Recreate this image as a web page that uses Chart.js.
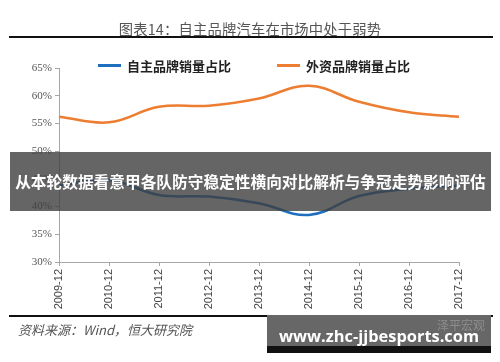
<!DOCTYPE html>
<html>
<head>
<meta charset="utf-8">
<script src="https://cdn.jsdelivr.net/npm/chart.js@4"></script>
<style>
  html, body { margin: 0; padding: 0; background: #fff; }
  #page { position: relative; width: 500px; height: 362px; overflow: hidden; font-family: "Noto Sans CJK SC", sans-serif; }
  #chartBox { position: absolute; left: 0; top: 0; width: 500px; height: 362px; }
  .title { position: absolute; left: 0; width: 500px; top: 18px; text-align: center; font-size: 14.3px; color: #555; letter-spacing: 0.2px; }
  .rule { position: absolute; left: 9px; width: 484px; background: #111; }
  .legend { position: absolute; top: 56px; font-size: 13px; font-weight: bold; color: #222; }
  .legend span.swatch { display: inline-block; width: 23px; height: 3px; vertical-align: middle; margin-right: 6px; position: relative; top: -2px; }
  .source { position: absolute; left: 18px; top: 320px; font-size: 13px; font-style: italic; color: #555; font-family: "Noto Sans CJK SC", "Liberation Serif", serif; }
  .banner { position: absolute; left: 10px; top: 152px; width: 481px; height: 59px; background: rgba(62, 62, 62, 0.8); color: #fff; font-weight: bold; font-size: 15.7px; line-height: 59px; text-align: center; white-space: nowrap; }
  .mark { position: absolute; left: 267px; top: 315px; width: 224px; height: 31px; background: #676767; border-bottom: 7px solid #111; }
  .mark .site { position: absolute; left: 0; width: 224px; top: 9px; text-align: center; color: #fff; font-weight: bold; font-size: 16.4px; font-family: "Open Sans", sans-serif; line-height: 24px; }
  .mark .wx { position: absolute; right: 6px; top: 1px; color: #8d8d8d; font-size: 12px; }
</style>
</head>
<body>
<div id="page">
  <div id="chartBox"><canvas id="myChart" width="500" height="362"></canvas></div>
  <div class="title">图表14：自主品牌汽车在市场中处于弱势</div>
  <div class="rule" style="top:36px;height:2px;"></div>
  <div class="legend" id="leg0" style="left:98px;"></div>
  <div class="legend" id="leg1" style="left:277px;"></div>
  <div class="banner">从本轮数据看意甲各队防守稳定性横向对比解析与争冠走势影响评估</div>
  <div class="rule" style="top:315px;height:2px;"></div>
  <div class="source">资料来源：Wind，恒大研究院</div>
  <div class="mark">
    <div class="wx">泽平宏观</div>
    <div class="site">www.zhc-jjbesports.com</div>
  </div>
</div>
<script>
const years = ['2009-12', '2010-12', '2011-12', '2012-12', '2013-12', '2014-12', '2015-12', '2016-12', '2017-12'];
const seriesNames = ['自主品牌销量占比', '外资品牌销量占比'];
const domesticShare = [43.8, 44.8, 42.1, 41.8, 40.6, 38.5, 41.9, 43.2, 43.8];
const foreignShare = [56.2, 55.2, 58.0, 58.2, 59.5, 61.8, 58.9, 57.0, 56.2];
const yMin = 30, yMax = 65, yStep = 5;
const colors = ['#1f6fbf', '#ed7d31'];

// legend as plain html
seriesNames.forEach(function(name, i) {
  document.getElementById('leg' + i).innerHTML =
    '<span class="swatch" style="background:' + colors[i] + '"></span>' + name;
});

const ctx = document.getElementById('myChart');
const myChart = new Chart(ctx, {
  type: 'line',
  data: {
    labels: years,
    datasets: [{
      label: seriesNames[0],
      data: domesticShare,
      borderColor: colors[0],
      borderWidth: 2.5,
      pointRadius: 0,
      tension: 0.4
    }, {
      label: seriesNames[1],
      data: foreignShare,
      borderColor: colors[1],
      borderWidth: 2.5,
      pointRadius: 0,
      tension: 0.4
    }]
  },
  options: {
    responsive: false,
    animation: false,
    layout: { padding: { top: 68, right: 41, left: 0, bottom: 0 } },
    plugins: { legend: { display: false }, tooltip: { enabled: false } },
    scales: {
      x: {
        offset: false,
        grid: { drawOnChartArea: false, drawTicks: true, tickLength: 4, color: '#a6a6a6' },
        border: { color: '#a6a6a6' },
        ticks: {
          minRotation: 90, maxRotation: 90, autoSkip: false,
          color: '#444', padding: 3,
          font: { family: 'Liberation Sans', size: 11 }
        },
        afterFit: function(scale) { scale.height = 100; }
      },
      y: {
        min: yMin, max: yMax,
        grid: { drawOnChartArea: false, drawTicks: true, tickLength: 4, color: '#a6a6a6' },
        border: { color: '#a6a6a6' },
        ticks: {
          stepSize: yStep, color: '#555', padding: 3,
          font: { family: 'Liberation Serif', size: 11 },
          callback: function(v) { return v + '%'; }
        },
        afterFit: function(scale) { scale.width = 59; }
      }
    }
  }
});
</script>
</body>
</html>
